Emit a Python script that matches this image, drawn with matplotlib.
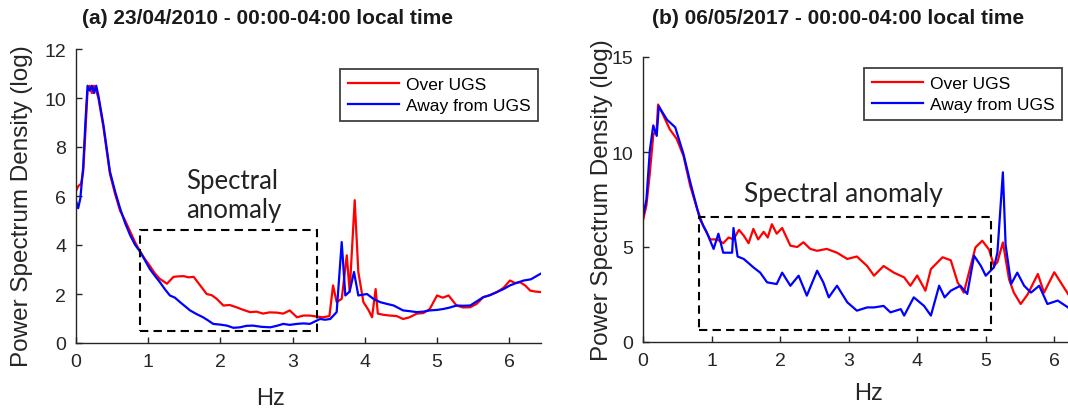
import matplotlib
matplotlib.use("Agg")
import matplotlib.pyplot as plt
from matplotlib.patches import Rectangle

# ================= DATA =================
# panel (a) 23/04/2010
xa_red = [0.00, 0.03, 0.07, 0.10, 0.13, 0.16, 0.19, 0.22, 0.25, 0.28, 0.31, 0.38, 0.47, 0.54, 0.61,
          0.68, 0.75, 0.82, 0.89, 0.96, 1.02, 1.09, 1.16, 1.26, 1.35, 1.42, 1.49, 1.56, 1.63, 1.72,
          1.81, 1.88, 1.95, 2.04, 2.13, 2.22, 2.32, 2.41, 2.50, 2.59, 2.68, 2.78, 2.87, 2.96, 3.06,
          3.15, 3.24, 3.33, 3.42, 3.51, 3.56, 3.61, 3.68, 3.75, 3.79, 3.86, 3.91, 3.98, 4.05, 4.10,
          4.15, 4.18, 4.26, 4.35, 4.44, 4.53, 4.62, 4.72, 4.81, 4.90, 5.00, 5.08, 5.16, 5.27, 5.36,
          5.46, 5.55, 5.64, 5.73, 5.83, 5.92, 6.01, 6.08, 6.15, 6.22, 6.29, 6.36, 6.43]
ya_red = [6.2, 6.4, 6.5, 7.0, 8.6, 10.3, 10.5, 10.2, 10.5, 10.3, 10.0, 8.8, 6.9, 6.1, 5.4,
          5.0, 4.55, 4.1, 3.72, 3.4, 3.16, 2.85, 2.62, 2.42, 2.70, 2.72, 2.73, 2.68, 2.70, 2.35,
          2.0, 1.95, 1.80, 1.53, 1.55, 1.46, 1.35, 1.26, 1.28, 1.20, 1.25, 1.24, 1.20, 1.33, 1.05,
          1.12, 1.12, 1.08, 1.05, 1.10, 2.35, 1.67, 1.80, 3.58, 2.10, 5.83, 2.90, 1.67, 1.35, 1.05,
          2.20, 1.20, 1.15, 1.12, 1.10, 0.98, 1.05, 1.20, 1.22, 1.39, 1.94, 1.85, 1.94, 1.53, 1.45,
          1.46, 1.60, 1.87, 1.95, 2.08, 2.25, 2.55, 2.45, 2.48, 2.35, 2.14, 2.10, 2.08]

xa_blue = [0.00, 0.03, 0.06, 0.10, 0.13, 0.16, 0.19, 0.22, 0.25, 0.28, 0.31, 0.38, 0.47, 0.54, 0.61,
           0.68, 0.75, 0.82, 0.89, 0.96, 1.02, 1.09, 1.16, 1.23, 1.30, 1.37, 1.44, 1.51, 1.58, 1.67,
           1.76, 1.83, 1.90, 2.00, 2.09, 2.18, 2.27, 2.36, 2.45, 2.57, 2.69, 2.78, 2.87, 2.96, 3.06,
           3.15, 3.24, 3.31, 3.38, 3.45, 3.52, 3.61, 3.68, 3.73, 3.79, 3.85, 3.91, 4.03, 4.12, 4.21,
           4.30, 4.40, 4.53, 4.62, 4.72, 4.81, 4.90, 5.00, 5.09, 5.18, 5.27, 5.36, 5.46, 5.55, 5.64,
           5.73, 5.83, 5.92, 6.01, 6.10, 6.20, 6.30, 6.43]
ya_blue = [5.8, 5.5, 5.9, 7.2, 9.0, 10.5, 10.3, 10.5, 10.2, 10.5, 10.1, 8.9, 7.0, 6.2, 5.5,
           4.9, 4.4, 4.0, 3.72, 3.35, 3.03, 2.75, 2.49, 2.20, 1.94, 1.85, 1.67, 1.50, 1.33, 1.18,
           1.05, 0.92, 0.78, 0.75, 0.71, 0.62, 0.64, 0.70, 0.71, 0.66, 0.64, 0.70, 0.78, 0.74, 0.78,
           0.80, 0.78, 0.88, 0.98, 0.95, 0.98, 1.26, 4.12, 1.94, 2.10, 2.90, 1.94, 2.00, 1.80, 1.67,
           1.60, 1.53, 1.33, 1.30, 1.26, 1.28, 1.33, 1.35, 1.39, 1.45, 1.53, 1.52, 1.53, 1.70, 1.87,
           1.95, 2.08, 2.20, 2.35, 2.45, 2.55, 2.60, 2.82]

# panel (b) 06/05/2017
xb_red = [0.00, 0.05, 0.10, 0.15, 0.20, 0.22, 0.30, 0.39, 0.49, 0.59, 0.69, 0.79, 0.88, 0.98, 1.08,
          1.17, 1.25, 1.32, 1.40, 1.47, 1.54, 1.61, 1.68, 1.76, 1.82, 1.88, 1.95, 2.03, 2.15, 2.25,
          2.34, 2.44, 2.54, 2.68, 2.83, 2.98, 3.12, 3.27, 3.37, 3.51, 3.66, 3.81, 3.90, 4.00, 4.12,
          4.20, 4.37, 4.49, 4.59, 4.68, 4.78, 4.85, 4.95, 5.05, 5.12, 5.17, 5.25, 5.34, 5.41, 5.51,
          5.61, 5.76, 5.85, 6.00, 6.10, 6.20]
yb_red = [6.4, 7.2, 8.9, 10.9, 11.2, 12.5, 11.9, 11.2, 10.7, 9.8, 8.2, 7.0, 6.1, 5.4, 5.4,
          5.2, 5.5, 5.4, 5.9, 5.6, 5.2, 5.95, 5.4, 5.8, 5.5, 6.2, 5.7, 6.0, 5.07, 5.0,
          5.25, 4.9, 4.8, 4.9, 4.7, 4.37, 4.5, 4.0, 3.49, 4.0, 3.65, 3.4, 2.96, 3.5, 2.7,
          3.84, 4.46, 4.3, 3.14, 2.6, 4.0, 4.98, 5.33, 4.85, 4.0, 4.2, 5.24, 3.3, 2.6, 2.0,
          2.5, 3.58, 2.6, 3.67, 3.1, 2.53]

xb_blue = [0.00, 0.05, 0.10, 0.15, 0.20, 0.23, 0.35, 0.47, 0.59, 0.69, 0.83, 0.93, 1.03, 1.10, 1.17,
           1.30, 1.32, 1.38, 1.47, 1.61, 1.71, 1.81, 1.95, 2.03, 2.15, 2.27, 2.39, 2.54, 2.63, 2.71,
           2.83, 2.98, 3.12, 3.27, 3.37, 3.51, 3.61, 3.76, 3.81, 3.95, 4.10, 4.20, 4.32, 4.40, 4.49,
           4.63, 4.73, 4.83, 4.93, 5.00, 5.12, 5.17, 5.25, 5.29, 5.37, 5.46, 5.56, 5.66, 5.78, 5.90,
           6.05, 6.20]
yb_blue = [6.6, 7.5, 10.1, 11.4, 10.85, 12.4, 11.7, 11.3, 9.9, 8.4, 6.47, 5.77, 4.9, 5.7, 4.7,
           4.7, 6.0, 4.5, 4.37, 3.93, 3.65, 3.14, 3.05, 3.65, 2.96, 3.49, 2.44, 3.75, 3.14, 2.35,
           2.96, 2.09, 1.65, 1.82, 1.82, 1.9, 1.56, 1.73, 1.39, 2.35, 1.9, 1.39, 2.96, 2.35, 2.7,
           2.96, 2.53, 4.54, 4.0, 3.49, 3.93, 4.7, 8.93, 5.1, 3.05, 3.65, 2.96, 2.6, 2.96, 2.0,
           2.18, 1.82]

xticks = [0, 1, 2, 3, 4, 5, 6]
yticks_a = [0, 2, 4, 6, 8, 10, 12]
yticks_b = [0, 5, 10, 15]

# ================= FIGURE =================
W, H = 1068, 414
fig = plt.figure(figsize=(W / 100, H / 100), dpi=100)

tick_font = ["Liberation Sans", "DejaVu Sans"]
grey = "#262626"


def fx(px):
    return px / W


def fy(py):
    return 1 - py / H


def style_axes(ax, yticks):
    ax.spines["top"].set_visible(False)
    ax.spines["right"].set_visible(False)
    for s in ("left", "bottom"):
        ax.spines[s].set_color(grey)
        ax.spines[s].set_linewidth(1.0)
    ax.set_xticks(xticks)
    ax.set_yticks(yticks)
    ax.tick_params(direction="in", length=4, width=1, colors=grey, pad=7)
    for lab in ax.get_xticklabels() + ax.get_yticklabels():
        lab.set_fontfamily(tick_font)
        lab.set_fontsize(14)


def add_legend(ax, right, top):
    leg = ax.legend(loc="upper right", bbox_to_anchor=(fx(right), fy(top)),
                    bbox_transform=fig.transFigure, borderaxespad=0,
                    fancybox=False, framealpha=1, edgecolor="#404040",
                    prop={"family": "Liberation Sans", "size": 12.5},
                    handlelength=2.9, handletextpad=0.4, borderpad=0.45,
                    labelspacing=0.35)
    leg.get_frame().set_linewidth(1.3)


# ---- panel (a)
ax1 = fig.add_axes([fx(76), fy(344), fx(541 - 76), (344 - 50) / H])
ax1.plot(xa_red, ya_red, color="#ff0000", lw=1.6, label="Over UGS")
ax1.plot(xa_blue, ya_blue, color="#0000ff", lw=1.6, label="Away from UGS")
ax1.set_xlim(0, 6.44)
ax1.set_ylim(0, 12)
style_axes(ax1, yticks_a)
ax1.add_patch(Rectangle((0.89, 0.5), 3.34 - 0.89, 4.6 - 0.5, fill=False,
                        ls=(0, (4, 2.5)), lw=1.5, ec="black", zorder=5))
ax1.text(1.52, 4.95, "Spectral\nanomaly", fontsize=18.5, family="Lato",
         color="#222222", linespacing=1.2, va="bottom", ha="left")
add_legend(ax1, 538, 70)

# ---- panel (b)
ax2 = fig.add_axes([fx(643), fy(343), fx(1068 - 643), (343 - 58) / H])
ax2.plot(xb_red, yb_red, color="#ff0000", lw=1.6, label="Over UGS")
ax2.plot(xb_blue, yb_blue, color="#0000ff", lw=1.6, label="Away from UGS")
ax2.set_xlim(0, 6.2)
ax2.set_ylim(0, 15)
style_axes(ax2, yticks_b)
ax2.add_patch(Rectangle((0.82, 0.63), 5.07 - 0.82, 6.6 - 0.63, fill=False,
                        ls=(0, (4, 2.5)), lw=1.5, ec="black", zorder=5))
ax2.text(1.47, 7.8, "Spectral anomaly", fontsize=19, family="Lato",
         color="#222222", va="center", ha="left")
add_legend(ax2, 1062, 69)

# ---- titles and axis labels
title_font = ["Liberation Sans", "DejaVu Sans"]
fig.text(fx(268), fy(18), "(a) 23/04/2010 - 00:00-04:00 local time", ha="center",
         va="center", fontsize=15, fontweight="bold", family=title_font, color="#1a1a1a")
fig.text(fx(838), fy(18), "(b) 06/05/2017 - 00:00-04:00 local time", ha="center",
         va="center", fontsize=15, fontweight="bold", family=title_font, color="#1a1a1a")

fig.text(fx(22), fy(206), "Power Spectrum Density (log)", rotation=90,
         ha="center", va="center", fontsize=17.5, family="Liberation Sans", color=grey)
fig.text(fx(602), fy(200), "Power Spectrum Density (log)", rotation=90,
         ha="center", va="center", fontsize=17.5, family="Liberation Sans", color=grey)
fig.text(fx(270), fy(399), "Hz", ha="center", va="center", fontsize=17,
         family=tick_font, color=grey)
fig.text(fx(868), fy(394), "Hz", ha="center", va="center", fontsize=17,
         family=tick_font, color=grey)

fig.savefig("out.png", dpi=100)
